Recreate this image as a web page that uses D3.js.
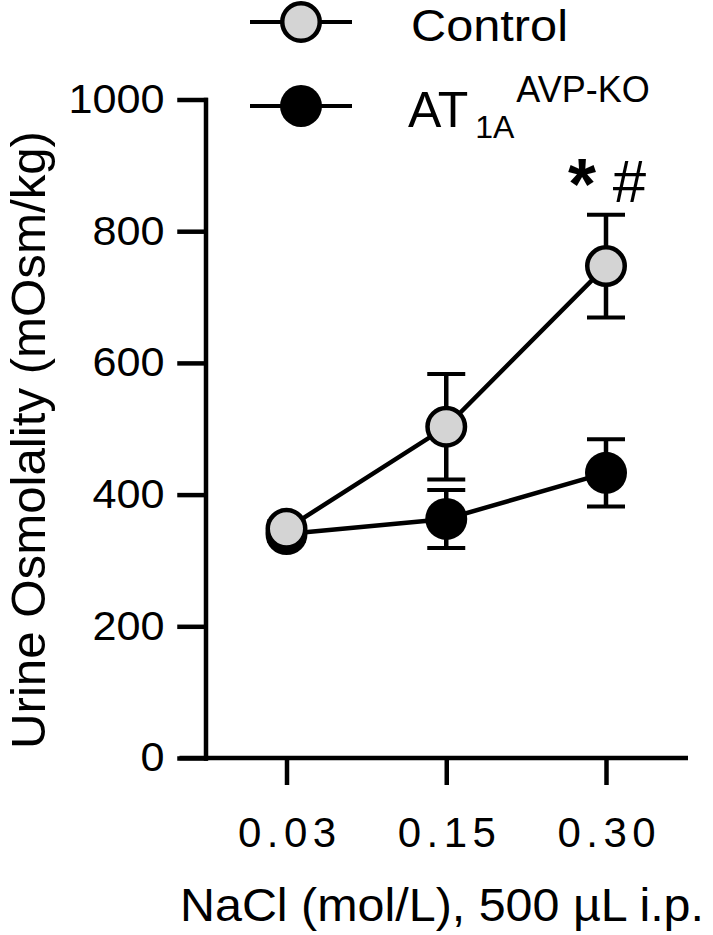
<!DOCTYPE html>
<html>
<head>
<meta charset="utf-8">
<script src="https://cdn.jsdelivr.net/npm/d3@7"></script>
<style>
  body { margin: 0; background: #fff; }
  text { font-family: "Liberation Sans", Arial, Helvetica, sans-serif; fill: #000; }
</style>
</head>
<body>
<script>
// data
const categories = ['0.03', '0.15', '0.30'];
const controlMean = [348, 503, 747];
const controlSem = [12, 80, 78];
const koMean = [340, 363, 433];
const koSem = [10, 44, 51];
const yTicks = [0, 200, 400, 600, 800, 1000];

const svg = d3.select('body')
  .append('svg')
  .attr('width', 713)
  .attr('height', 935);

const x = d3.scalePoint().domain(categories).range([286.5, 606]);
const y = d3.scaleLinear().domain([0, 1000]).range([758, 99.5]);
const axisX = 205.5;
const lw = 4.5;

// y axis
const yAxis = svg.append('g')
  .attr('transform', 'translate(' + axisX + ',0)')
  .call(d3.axisLeft(y).tickValues(yTicks).tickFormat(d3.format('d'))
    .tickSize(26).tickSizeOuter(0).tickPadding(15));
yAxis.selectAll('path, line')
  .attr('stroke', '#000')
  .attr('stroke-width', lw)
  .attr('stroke-linecap', 'square');
yAxis.selectAll('text')
  .attr('font-size', 40)
  .attr('fill', '#000')
  .attr('textLength', d => String(d).length * 24)
  .attr('lengthAdjust', 'spacingAndGlyphs');

// x axis
svg.append('line')
  .attr('x1', axisX - 26)
  .attr('x2', 688)
  .attr('y1', y(0))
  .attr('y2', y(0))
  .attr('stroke', '#000')
  .attr('stroke-width', lw);

const xAxis = svg.append('g')
  .attr('transform', 'translate(0,' + y(0) + ')')
  .call(d3.axisBottom(x).tickSize(27).tickSizeOuter(0));
xAxis.select('.domain').remove();
xAxis.selectAll('line')
  .attr('stroke', '#000')
  .attr('stroke-width', lw);
xAxis.selectAll('text')
  .attr('font-size', 42)
  .attr('fill', '#000')
  .attr('y', 89)
  .attr('dy', 0)
  .attr('textLength', 98)
  .attr('lengthAdjust', 'spacing');

// axis titles
svg.append('text')
  .attr('transform', 'translate(45,440) rotate(-90)')
  .attr('text-anchor', 'middle')
  .attr('font-size', 48)
  .attr('textLength', 618)
  .attr('lengthAdjust', 'spacingAndGlyphs')
  .text('Urine Osmolality (mOsm/kg)');

svg.append('text')
  .attr('x', 180)
  .attr('y', 921)
  .attr('font-size', 47)
  .attr('textLength', 524)
  .attr('lengthAdjust', 'spacingAndGlyphs')
  .text('NaCl (mol/L), 500 \u00b5L i.p.');

// series
const series = [
  { name: 'ko', mean: koMean, sem: koSem, fill: '#000', r: 21, stroke: 'none' },
  { name: 'control', mean: controlMean, sem: controlSem, fill: '#d4d4d4', r: 18.75, stroke: '#000' }
];

const line = d3.line()
  .x((d, i) => x(categories[i]))
  .y(d => y(d));

series.forEach(function(s) {
  const g = svg.append('g').attr('class', s.name);

  g.append('path')
    .datum(s.mean)
    .attr('d', line)
    .attr('fill', 'none')
    .attr('stroke', '#000')
    .attr('stroke-width', lw);

  const err = g.selectAll('g.err')
    .data(s.mean)
    .enter()
    .append('g')
    .attr('class', 'err');

  err.append('line')
    .attr('x1', (d, i) => x(categories[i]))
    .attr('x2', (d, i) => x(categories[i]))
    .attr('y1', (d, i) => y(d - s.sem[i]))
    .attr('y2', (d, i) => y(d + s.sem[i]))
    .attr('stroke', '#000')
    .attr('stroke-width', lw);
  [1, -1].forEach(function(sign) {
    err.append('line')
      .attr('x1', (d, i) => x(categories[i]) - 19)
      .attr('x2', (d, i) => x(categories[i]) + 19)
      .attr('y1', (d, i) => y(d + sign * s.sem[i]))
      .attr('y2', (d, i) => y(d + sign * s.sem[i]))
      .attr('stroke', '#000')
      .attr('stroke-width', 4);
  });

  g.selectAll('circle')
    .data(s.mean)
    .enter()
    .append('circle')
    .attr('cx', (d, i) => x(categories[i]))
    .attr('cy', d => y(d))
    .attr('r', s.r)
    .attr('fill', s.fill)
    .attr('stroke', s.stroke)
    .attr('stroke-width', lw);
});

// significance marks above control at 0.30
const capY = y(controlMean[2] + controlSem[2]);
svg.append('text')
  .attr('x', x(categories[2]) - 24)
  .attr('y', capY - 6)
  .attr('text-anchor', 'middle')
  .attr('font-size', 72)
  .attr('font-weight', 'bold')
  .text('*');
svg.append('text')
  .attr('x', x(categories[2]) + 23.5)
  .attr('y', capY - 13)
  .attr('text-anchor', 'middle')
  .attr('font-size', 60)
  .text('#');

// legend
const legend = svg.append('g');
const legendRows = [
  { y: 22, fill: '#d4d4d4', r: 18.75, stroke: '#000' },
  { y: 106, fill: '#000', r: 21, stroke: 'none' }
];
legendRows.forEach(function(row) {
  legend.append('line')
    .attr('x1', 250).attr('x2', 352)
    .attr('y1', row.y).attr('y2', row.y)
    .attr('stroke', '#000')
    .attr('stroke-width', 4);
  legend.append('circle')
    .attr('cx', 301).attr('cy', row.y)
    .attr('r', row.r)
    .attr('fill', row.fill)
    .attr('stroke', row.stroke)
    .attr('stroke-width', lw);
});

legend.append('text')
  .attr('x', 411)
  .attr('y', 41)
  .attr('font-size', 45)
  .attr('textLength', 157)
  .attr('lengthAdjust', 'spacingAndGlyphs')
  .text('Control');

const ko = legend.append('text')
  .attr('x', 408)
  .attr('y', 127)
  .attr('font-size', 50);
ko.append('tspan').text('AT');
ko.append('tspan').attr('font-size', 32).attr('dx', 7).attr('dy', 11).text('1A');
ko.append('tspan').attr('font-size', 36).attr('dx', 2).attr('dy', -36).text('AVP-KO');
</script>
</body>
</html>
